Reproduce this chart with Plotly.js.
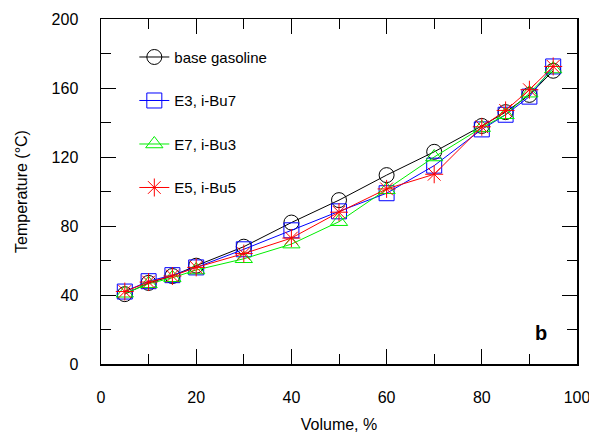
<!DOCTYPE html>
<html>
<head>
<meta charset="utf-8">
<script src="https://cdn.plot.ly/plotly-3.0.1.min.js"></script>
<style>html,body{margin:0;padding:0;background:#fff;}#chart{width:589px;height:435px;}</style>
</head>
<body>
<div id="chart"></div>
<script>
const volume = [5, 10, 15, 20, 30, 40, 50, 60, 70, 80, 85, 90, 95];
const baseGasoline = [40.5, 47, 51, 57, 68, 82, 95, 109.5, 123, 138, 146, 156, 170];
const e3iBu7 = [42, 48, 51.5, 56, 66.5, 77.5, 88.5, 99, 115, 136, 144.5, 155, 172.5];
const e7iBu3 = [41, 46.5, 50, 54.5, 61, 69.5, 82.5, 101, 120, 137, 144.5, 157, 171];
const e5iBu5 = [42, 47.5, 51, 56, 64, 73, 88, 101.5, 110, 137.5, 147, 159, 172.5];
const seriesNames = ['base gasoline', 'E3, i-Bu7', 'E7, i-Bu3', 'E5, i-Bu5'];

const font = 'Liberation Sans, Arial, sans-serif';
const mk = (name, y, color, symbol) => ({
  x: volume, y: y, name: name, type: 'scatter', mode: 'lines+markers',
  legendgroup: name,
  line: {color: color, width: 1},
  marker: {symbol: symbol, size: 15, color: color, line: {color: color, width: 1}}
});
const data = [
  mk(seriesNames[0], baseGasoline, '#000000', 'circle-open'),
  mk(seriesNames[1], e3iBu7, '#0000ff', 'square-open'),
  mk(seriesNames[2], e7iBu3, '#00ee00', 'triangle-up-open'),
  mk(seriesNames[3], e5iBu5, '#ff0000', 'asterisk-open')
];
const axisCommon = {
  showline: true, linecolor: '#000', linewidth: 1.5, mirror: 'allticks',
  ticks: 'inside', ticklen: 15, tickwidth: 1, tickcolor: '#000',
  showgrid: false, zeroline: false,
  tickfont: {family: font, size: 16, color: '#000'},
  ticklabelstandoff: 18, ticklabeloverflow: 'allow'
};
const layout = {
  width: 589, height: 435,
  margin: {l: 101, r: 12, t: 19, b: 71},
  paper_bgcolor: '#fff', plot_bgcolor: '#fff',
  showlegend: true,
  legend: {x: 0.07, y: 0.937, xanchor: 'left', yanchor: 'top',
    font: {family: font, size: 15, color: '#000'},
    tracegroupgap: 21, bgcolor: 'rgba(0,0,0,0)'},
  xaxis: Object.assign({}, axisCommon, {
    range: [0, 100], dtick: 20, tick0: 0,
    minor: {dtick: 10, ticks: 'inside', ticklen: 10, tickcolor: '#000'},
    title: {text: 'Volume, %', font: {family: font, size: 16, color: '#000'}, standoff: 14}
  }),
  yaxis: Object.assign({}, axisCommon, {
    range: [0, 200], dtick: 40, tick0: 0,
    minor: {dtick: 20, ticks: 'inside', ticklen: 10, tickcolor: '#000'},
    title: {text: 'Temperature (°C)', font: {family: font, size: 16, color: '#000'}, standoff: 20}
  }),
  annotations: [{x: 92.5, y: 18, xref: 'x', yref: 'y', text: '<b>b</b>', showarrow: false,
    font: {family: font, size: 20, color: '#000'}}]
};
Plotly.newPlot('chart', data, layout, {displayModeBar: false, staticPlot: true});
</script>
</body>
</html>
